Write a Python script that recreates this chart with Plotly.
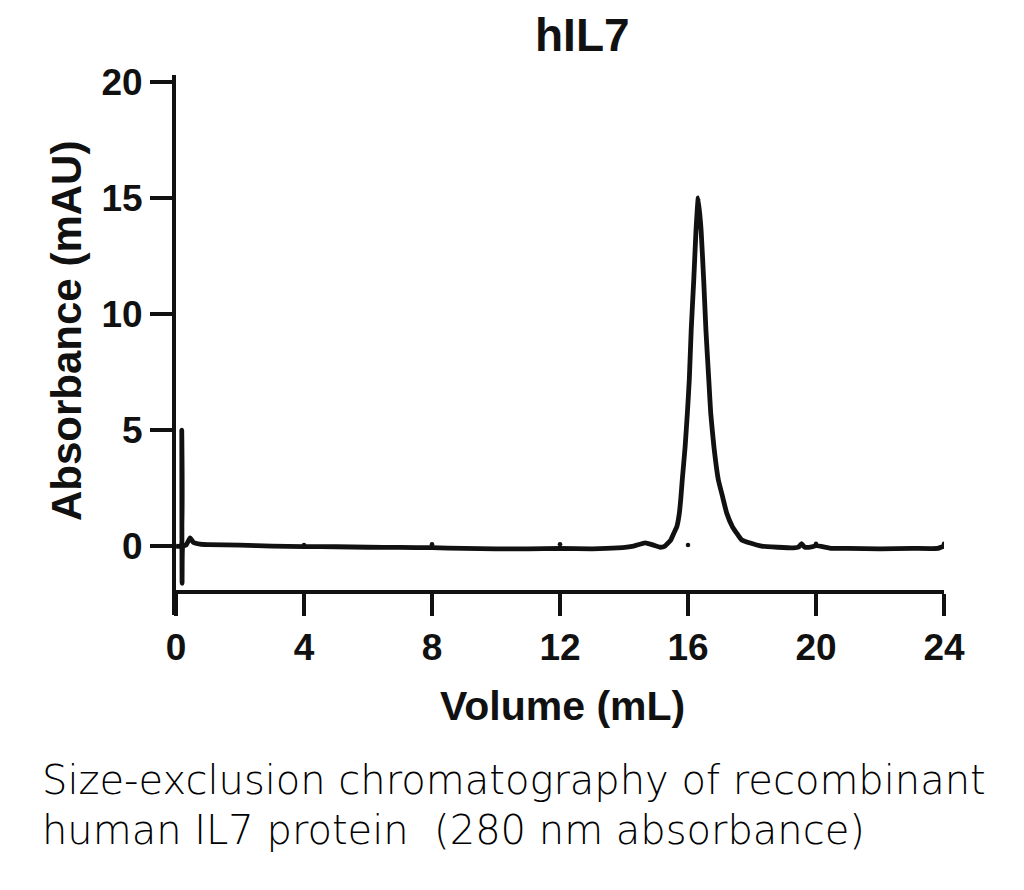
import plotly.graph_objects as go

# Chromatogram trace (Volume mL, Absorbance mAU)
volume = [0.0, 0.15, 0.18, 0.19, 0.22, 0.32, 0.44, 0.55, 0.75, 1.0, 2.0, 3.0, 4.0, 5.0,
          6.0, 7.0, 8.0, 9.0, 10.0, 11.0, 12.0, 13.0, 13.8, 14.3, 14.66, 14.9, 15.13,
          15.28, 15.46, 15.56, 15.65, 15.73, 15.78, 15.82, 15.91, 15.98, 16.04, 16.10,
          16.18, 16.25, 16.32, 16.41, 16.49, 16.56, 16.65, 16.71, 16.81, 16.95, 17.08,
          17.21, 17.39, 17.52, 17.68, 17.94, 18.3, 18.8, 19.3, 19.45, 19.55, 19.65,
          19.9, 20.0, 20.5, 21.0, 22.0, 23.0, 23.8, 24.0]
absorb = [0.0, 0.0, 5.0, -1.6, 0.0, 0.05, 0.35, 0.15, 0.08, 0.06, 0.04, 0.0, -0.02, -0.03,
          -0.05, -0.06, -0.07, -0.1, -0.12, -0.12, -0.1, -0.12, -0.08, 0.0, 0.14, 0.05, -0.05,
          0.0, 0.26, 0.56, 0.83, 1.42, 2.13, 2.84, 4.28, 5.73, 7.16, 9.31,
          11.47, 13.6, 15.0, 13.6, 11.47, 9.31, 7.16, 5.73, 4.28, 2.84, 2.13,
          1.42, 0.83, 0.56, 0.26, 0.13, 0.0, -0.05, -0.08, -0.05, 0.1, -0.05,
          -0.02, 0.02, -0.1, -0.1, -0.12, -0.1, -0.1, 0.0]

# Small fraction dots
dot_x = [4, 8, 12, 16, 20, 24]
dot_y = [0.05, 0.08, 0.08, 0.05, 0.1, 0.1]

x_ticks = [0, 4, 8, 12, 16, 20, 24]
y_ticks = [0, 5, 10, 15, 20]

title_text = "hIL7"
x_title = "Volume (mL)"
y_title = "Absorbance (mAU)"
caption_lines = ["Size-exclusion chromatography of recombinant",
                 "human IL7 protein  (280 nm absorbance)"]

BOLD = "Liberation Sans, Arial, sans-serif"
INK = "#111111"

fig = go.Figure()
fig.add_trace(go.Scatter(x=volume, y=absorb, mode="lines",
                         line=dict(color=INK, width=4.8, shape="spline", smoothing=0.4),
                         showlegend=False, hoverinfo="skip"))
fig.add_trace(go.Scatter(x=dot_x, y=dot_y, mode="markers",
                         marker=dict(color=INK, size=4.5),
                         showlegend=False, hoverinfo="skip"))

fig.update_layout(
    width=1024, height=890,
    margin=dict(l=176, r=80, t=75, b=275),
    paper_bgcolor="white", plot_bgcolor="white",
    xaxis=dict(range=[0, 24], tickvals=x_ticks, ticktext=[str(v) for v in x_ticks],
               showgrid=False, zeroline=False, showline=True, linewidth=4, linecolor=INK,
               ticks="outside", ticklen=22, tickwidth=4, tickcolor=INK,
               anchor="free", position=0.0431,
               tickfont=dict(family=BOLD, size=37, color=INK, weight="bold")),
    yaxis=dict(range=[-2.97, 20.3], tickvals=y_ticks, ticktext=[str(v) for v in y_ticks],
               showgrid=False, zeroline=False, showline=True, linewidth=4, linecolor=INK,
               ticks="outside", ticklen=22, tickwidth=4, tickcolor=INK,
               tickfont=dict(family=BOLD, size=37, color=INK, weight="bold")),
)

fig.add_annotation(text=title_text, xref="paper", yref="paper",
                   x=(582 - 176) / 768, y=1 + (75 - 35) / 540, showarrow=False,
                   xanchor="center", yanchor="middle",
                   font=dict(family=BOLD, size=46, color=INK, weight="bold"))
fig.add_annotation(text=x_title, xref="paper", yref="paper",
                   x=(562 - 176) / 768, y=-(706 - 615) / 540, showarrow=False,
                   xanchor="center", yanchor="middle",
                   font=dict(family=BOLD, size=41, color=INK, weight="bold"))
fig.add_annotation(text=y_title, xref="paper", yref="paper", textangle=-90,
                   x=-(176 - 66) / 768, y=(615 - 331) / 540, showarrow=False,
                   xanchor="center", yanchor="middle",
                   font=dict(family=BOLD, size=42, color=INK, weight="bold"))
for i, line in enumerate(caption_lines):
    fig.add_annotation(text=line, xref="paper", yref="paper",
                       x=-(176 - 40) / 768, y=-(780 + 50 * i - 615) / 540,
                       showarrow=False, xanchor="left", yanchor="middle",
                       font=dict(family="DejaVu Sans, Lato, sans-serif", size=40,
                                 color="#000000", weight=200))

fig.write_html("out.html")
